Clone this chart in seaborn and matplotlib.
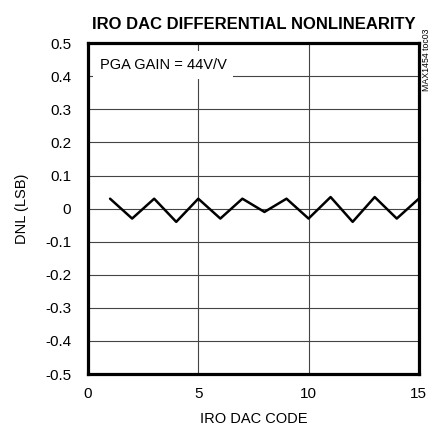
import matplotlib
matplotlib.use('Agg')
import matplotlib.pyplot as plt
import seaborn as sns
import pandas as pd
import numpy as np

# IRO DAC code vs DNL
codes = [1, 2, 3, 4, 5, 6, 7, 8, 9, 10, 11, 12, 13, 14, 15]
dnl = [0.03, -0.03, 0.03, -0.04, 0.03, -0.03, 0.03, -0.01, 0.03, -0.03, 0.035, -0.04, 0.035, -0.03, 0.03]
x_ticks = [0, 5, 10, 15]
y_ticks = [0.5, 0.4, 0.3, 0.2, 0.1, 0, -0.1, -0.2, -0.3, -0.4, -0.5]
y_ticklabels = ['0.5', '0.4', '0.3', '0.2', '0.1', '0', '-0.1', '-0.2', '-0.3', '-0.4', '-0.5']

df = pd.DataFrame({'code': codes, 'dnl': dnl})

sns.set_style('white')
plt.rcParams['font.family'] = ['Liberation Sans', 'DejaVu Sans']
plt.rcParams['text.color'] = 'black'
plt.rcParams['axes.labelcolor'] = 'black'
plt.rcParams['xtick.color'] = 'black'
plt.rcParams['ytick.color'] = 'black'

fig = plt.figure(figsize=(4.37, 4.36), dpi=100)
ax = fig.add_axes([0.2014, 0.142, 0.757, 0.759])

sns.lineplot(data=df, x='code', y='dnl', color='black', linewidth=1.8, ax=ax)

ax.set_xlim(0, 15)
ax.set_ylim(-0.5, 0.5)
ax.set_xticks(x_ticks)
ax.set_xticklabels([str(t) for t in x_ticks])
ax.set_yticks(y_ticks)
ax.set_yticklabels(y_ticklabels)
ax.tick_params(axis='y', length=0, labelsize=11, pad=12)
ax.tick_params(axis='x', length=0, labelsize=11, pad=9)
ax.grid(True, color='#444444', linewidth=0.8)
ax.set_axisbelow(True)
for s in ax.spines.values():
    s.set_linewidth(2.3)
    s.set_color('black')

ax.set_xlabel('IRO DAC CODE', fontsize=10.5, labelpad=8)
ax.set_ylabel('DNL (LSB)', fontsize=10.5, labelpad=12)
ax.set_title('IRO DAC DIFFERENTIAL NONLINEARITY', fontsize=12, fontweight='bold', pad=10)

ax.text(0.035, 0.955, 'PGA GAIN = 44V/V', transform=ax.transAxes, fontsize=10.5,
        va='top', ha='left',
        bbox=dict(facecolor='white', edgecolor='none', boxstyle='square,pad=0.45'))

fig.text(0.977, 0.935, 'MAX1454 toc03', rotation=90, fontsize=6.3, ha='center', va='top')

fig.savefig('out.png', dpi=100)
